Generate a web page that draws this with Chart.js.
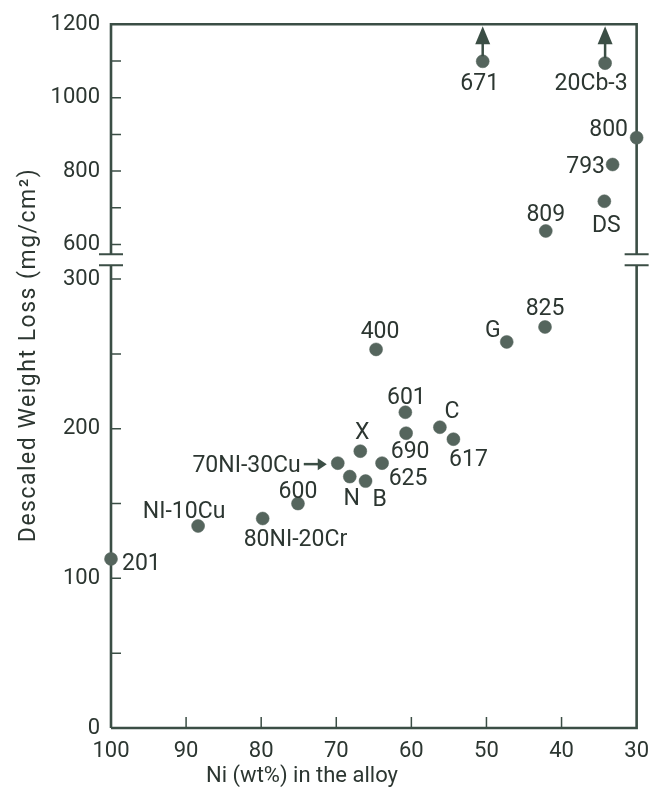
<!DOCTYPE html>
<html>
<head>
<meta charset="utf-8">
<script src="https://cdn.jsdelivr.net/npm/chart.js@4"></script>
<style>
  html, body { margin: 0; padding: 0; background: #fff; }
  #wrap { width: 659px; height: 797px; }
</style>
</head>
<body>
<div id="wrap"><canvas id="lossChart" width="659" height="797"></canvas></div>
<script>
// alloys below the axis break (0-300 mg/cm2)
const lowerAlloys = ['201', 'NI-10Cu', '80NI-20Cr', '600', '70NI-30Cu', 'X', 'N', 'B', '625', '690', '601', 'C', '617', '400', 'G', '825'];
const lowerNi = [100, 88.4, 79.8, 75.1, 69.8, 66.8, 68.2, 66.1, 63.9, 60.7, 60.8, 56.2, 54.4, 64.7, 47.3, 42.2];
const lowerLoss = [113, 135, 140, 150, 177, 185, 168, 165, 177, 197, 211, 201, 193, 253, 258, 268];

// alloys above the break (600-1200 mg/cm2)
const upperAlloys = ['671', '20Cb-3', '800', '793', 'DS', '809'];
const upperNi = [50.5, 34.2, 30, 33.2, 34.3, 42.1];
const upperLoss = [1099, 1094, 891, 818, 718, 637];
const offTheTop = ['671', '20Cb-3'];

const xTicks = [100, 90, 80, 70, 60, 50, 40, 30];
const lowerTicks = [0, 50, 100, 150, 200, 250, 300];
const upperTicks = [600, 700, 800, 900, 1000, 1100, 1200];
const lowerTickLabels = [0, 100, 200, 300];
const upperTickLabels = [600, 800, 1000, 1200];

const ink = '#2c3631';
const dot = '#55655d';
const frame = '#3b4e45';
const font = { family: 'Roboto', size: 22 };

// label placement around each point: dx, dy, align
const labelPlace = {
    '201': [11, 3, 'left'],
    'NI-10Cu': [-14, -16, 'center'],
    '80NI-20Cr': [-19, 19, 'left'],
    '600': [0, -14, 'center'],
    '70NI-30Cu': [-37, 1, 'right'],
    'X': [2, -20, 'center'],
    'N': [2, 20, 'center'],
    'B': [14, 17, 'center'],
    '625': [26, 14, 'center'],
    '690': [4, 17, 'center'],
    '601': [1, -16, 'center'],
    'C': [12, -17, 'center'],
    '617': [15, 19, 'center'],
    '400': [4, -19, 'center'],
    'G': [-14, -13, 'center'],
    '825': [0, -20, 'center'],
    '671': [-3, 21, 'center'],
    '20Cb-3': [-14, 19, 'center'],
    '800': [-28, -10, 'center'],
    '793': [-27, 0, 'center'],
    'DS': [2, 23, 'center'],
    '809': [0, -18, 'center']
};

const brokenFrame = {
    id: 'brokenFrame',
    beforeDatasetsDraw(chart) {
        const { ctx, chartArea: { left: L, right: R, top: T, bottom: B } } = chart;
        const mid = chart.scales.y.top;
        const gap = 5.5;
        ctx.save();
        ctx.strokeStyle = frame;
        ctx.lineWidth = 2.6;
        ctx.beginPath();
        ctx.moveTo(L, B); ctx.lineTo(L, mid + gap);
        ctx.moveTo(L, mid - gap); ctx.lineTo(L, T); ctx.lineTo(R, T); ctx.lineTo(R, mid - gap);
        ctx.moveTo(R, mid + gap); ctx.lineTo(R, B); ctx.lineTo(L, B);
        ctx.stroke();

        // break marks
        ctx.lineWidth = 2;
        ctx.beginPath();
        [L, R].forEach(x => {
            ctx.moveTo(x - 12, mid - gap); ctx.lineTo(x + 12, mid - gap);
            ctx.moveTo(x - 12, mid + gap); ctx.lineTo(x + 12, mid + gap);
        });
        ctx.stroke();

        // inward tick marks
        ctx.lineWidth = 1.5;
        ctx.beginPath();
        const xs = chart.scales.x;
        xTicks.forEach(v => {
            const px = xs.getPixelForValue(v);
            if (px - L < 2 || R - px < 2) return;
            ctx.moveTo(px, B); ctx.lineTo(px, B - 11);
        });
        [[chart.scales.y, lowerTicks], [chart.scales.y2, upperTicks]].forEach(([s, vals]) => {
            vals.forEach(v => {
                const py = s.getPixelForValue(v);
                if (py - T < 2 || B - py < 2) return;
                ctx.moveTo(L, py); ctx.lineTo(L + 10, py);
            });
        });
        ctx.stroke();

        // axis titles
        ctx.fillStyle = ink;
        ctx.textAlign = 'center';
        ctx.textBaseline = 'middle';
        ctx.font = '22px Roboto';
        ctx.fillText('Ni (wt%) in the alloy', 302, 776);
        ctx.font = '23px Roboto';
        ctx.letterSpacing = '1.5px';
        ctx.translate(29, 355);
        ctx.rotate(-Math.PI / 2);
        ctx.fillText('Descaled Weight Loss (mg/cm²)', 0, 0);
        ctx.restore();
    },
    afterDatasetsDraw(chart) {
        const { ctx, chartArea: { top: T } } = chart;
        ctx.save();
        ctx.font = '23px Roboto';
        ctx.fillStyle = ink;
        ctx.textBaseline = 'alphabetic';
        const groups = [[0, lowerAlloys], [1, upperAlloys]];
        groups.forEach(([di, names]) => {
            chart.getDatasetMeta(di).data.forEach((pt, i) => {
                const name = names[i];
                const [dx, dy, align] = labelPlace[name];
                ctx.textAlign = align;
                ctx.fillText(name, pt.x + dx, pt.y + dy + 8);

                if (name === '70NI-30Cu') {
                    ctx.strokeStyle = frame;
                    ctx.fillStyle = frame;
                    ctx.lineWidth = 2.5;
                    ctx.beginPath();
                    ctx.moveTo(pt.x - 34, pt.y + 1); ctx.lineTo(pt.x - 19, pt.y + 1);
                    ctx.stroke();
                    ctx.beginPath();
                    ctx.moveTo(pt.x - 11, pt.y + 1);
                    ctx.lineTo(pt.x - 20, pt.y - 5);
                    ctx.lineTo(pt.x - 20, pt.y + 7);
                    ctx.closePath();
                    ctx.fill();
                    ctx.fillStyle = ink;
                }
                if (offTheTop.includes(name)) {
                    ctx.strokeStyle = frame;
                    ctx.fillStyle = frame;
                    ctx.lineWidth = 2.5;
                    ctx.beginPath();
                    ctx.moveTo(pt.x, pt.y - 5); ctx.lineTo(pt.x, T + 16);
                    ctx.stroke();
                    ctx.beginPath();
                    ctx.moveTo(pt.x, T + 2);
                    ctx.lineTo(pt.x - 7.5, T + 20);
                    ctx.lineTo(pt.x + 7.5, T + 20);
                    ctx.closePath();
                    ctx.fill();
                    ctx.fillStyle = ink;
                }
            });
        });
        ctx.restore();
    }
};

const pointStyle = {
    pointRadius: 6.5,
    pointBackgroundColor: dot,
    pointBorderColor: dot,
    pointBorderWidth: 0.5,
    clip: false
};

new Chart(document.getElementById('lossChart'), {
    type: 'scatter',
    data: {
        datasets: [
            {
                label: 'below break',
                data: lowerNi.map((x, i) => ({ x, y: lowerLoss[i] })),
                yAxisID: 'y',
                ...pointStyle
            },
            {
                label: 'above break',
                data: upperNi.map((x, i) => ({ x, y: upperLoss[i] })),
                yAxisID: 'y2',
                ...pointStyle
            }
        ]
    },
    options: {
        responsive: false,
        animation: false,
        layout: { padding: { left: 0, right: 22, top: 21, bottom: 0 } },
        plugins: { legend: { display: false }, tooltip: { enabled: false } },
        scales: {
            x: {
                type: 'linear',
                reverse: true,
                min: 30,
                max: 100,
                afterBuildTicks: s => { s.ticks = xTicks.map(v => ({ value: v })); },
                afterFit: s => { s.height = 69; },
                grid: { display: false, drawTicks: false },
                border: { display: false },
                ticks: { font, color: ink, padding: 10, maxRotation: 0, autoSkip: false }
            },
            y: {
                type: 'linear',
                position: 'left',
                stack: 'loss',
                stackWeight: 470.5,
                min: 0,
                max: 313,
                afterBuildTicks: s => { s.ticks = lowerTicks.map(v => ({ value: v })); },
                afterFit: s => { s.width = 111; },
                grid: { display: false, drawTicks: false },
                border: { display: false },
                ticks: {
                    font, color: ink, padding: 11, autoSkip: false,
                    callback: v => lowerTickLabels.includes(v) ? String(v) : ''
                }
            },
            y2: {
                type: 'linear',
                position: 'left',
                stack: 'loss',
                stackWeight: 236.5,
                min: 559,
                max: 1200,
                afterBuildTicks: s => { s.ticks = upperTicks.map(v => ({ value: v })); },
                afterFit: s => { s.width = 111; },
                grid: { display: false, drawTicks: false },
                border: { display: false },
                ticks: {
                    font, color: ink, padding: 11, autoSkip: false,
                    callback: v => upperTickLabels.includes(v) ? String(v) : ''
                }
            }
        }
    },
    plugins: [brokenFrame]
});
</script>
</body>
</html>
